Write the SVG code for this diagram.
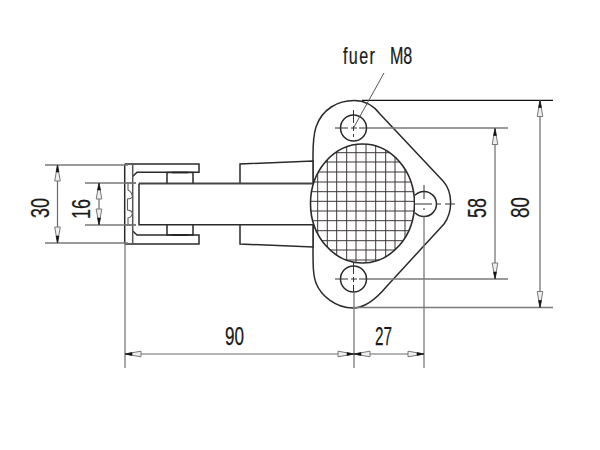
<svg xmlns="http://www.w3.org/2000/svg" width="600" height="450" viewBox="0 0 600 450">
<style>
.o{fill:none;stroke:#2a2a2a;stroke-width:1.5}
.w{fill:#fff;stroke:#2a2a2a;stroke-width:1.5}
.g{fill:none;stroke:#5e5e5e;stroke-width:1.1}
.d{fill:none;stroke:#7a7a7a;stroke-width:1.3}
.dm{fill:none;stroke:#6a6a6a;stroke-width:1.2;marker-start:url(#a);marker-end:url(#a)}
.c{fill:none;stroke:#333;stroke-width:1}
text{font-family:"Liberation Sans","DejaVu Sans",sans-serif;font-size:26px;fill:#1a1a1a;stroke:#1a1a1a;stroke-width:.25}
</style>
<defs>
<marker id="a" markerUnits="userSpaceOnUse" viewBox="-18 -5 20 10" refX="0" refY="0" markerWidth="20" markerHeight="10" orient="auto-start-reverse" overflow="visible">
<path d="M0 0L-16 -2.800L-16 2.800Z" fill="#efefef" stroke="#777" stroke-width="1"/>
<path d="M0 0L-7 -1.400V1.400Z" fill="#111" stroke="#111" stroke-width=".6"/>
</marker>
<clipPath id="e"><ellipse cx="362.5" cy="203.5" rx="52" ry="59.5"/></clipPath>
</defs>
<g id="plate">
<path class="w" d="M313 155C313 142 313.500 135 316 127C322 109 338 100.500 354 100.500C365 100.500 373 105 380 114L443 181C453 192 453 212 444 224L387 286C377 298 366 308 353 308C336 308 321 296 316 283C313 275 313 265 313 247Z"/>
</g>
<g id="arm">
<path class="w" d="M240 184V164L313 161V247L240 244V224.500Z"/>
<path d="M139 183.500H320V224.700H139Z" fill="#fff"/>
<path class="o" d="M139 183.500H320" style="stroke-width:1.800;stroke:#444"/>
<path class="o" d="M320 224.700H139V183.500"/>
</g>
<g id="clamp">
<path class="o" d="M124.700 164H199V172.300H137L132.700 176.500M124.700 244H199V235H137L132.700 231M124.700 164V244"/>
<path class="o" d="M132.700 164V244" style="stroke:#555"/>
<path class="o" d="M167 183.500V172.500H193V183.500M167 224.700V235H193V224.700"/>
<path d="M172 172.500H188M172 235H188" stroke="#222" stroke-width="1.700" fill="none"/>
<path class="o" d="M124.700 183H136M124.700 225H136" style="stroke-width:1.100"/>
<path class="g" d="M128 183V190Q132 192 132.500 197Q131 199 127.500 199V210Q131 210 132.500 213Q132 217 128 218V225"/>
</g>
<g id="mesh">
<ellipse cx="362.500" cy="203.500" rx="52" ry="59.500" fill="#fff"/>
<g clip-path="url(#e)">
<path fill="none" stroke="#3d3536" stroke-width="1" d="M317.700 140V270M327.300 140V270M336.700 140V270M346.700 140V270M356 140V270M366 140V270M375.700 140V270M385.700 140V270M395 140V270M405 140V270M310 152.700H416M310 162H416M310 172H416M310 182H416M310 191.700H416M310 201.300H416M310 211H416M310 220.700H416M310 230.700H416M310 240.700H416M310 250H416M310 260H416"/>
</g>
<ellipse class="o" cx="362.500" cy="203.500" rx="52" ry="59.500" style="stroke-width:1.600"/>
</g>
<g id="hole-top">
<circle class="w" cx="353.500" cy="128" r="13"/>
<path class="c" d="M335 128H348M351 128H357M359 128H372M353.500 110V123M353.500 126V131M353.500 134V137"/>
</g>
<g id="hole-bottom">
<circle class="w" cx="353.500" cy="279" r="13"/>
<path class="c" d="M335 279H348M351 279H357M359 279H372M353.500 262V274M353.500 277V282M353.500 285V292"/>
</g>
<g id="hole-right">
<path class="w" d="M415 195.300A12.500 12.500 0 1 1 415 212.700"/>
<path class="c" d="M414 204H432M437 204H441M445 204H455M424 185V199M424 208V210"/>
</g>
<g id="connectors">
<path class="d" d="M45 165H128M45 243H128M85 183H136M85 225H136"/>
<path class="d" d="M125 243V368M354 292V368M424 216.500V368"/>
<path class="d" d="M372 128H508M372 279H508M353 307.500H553"/>
<path d="M362 100.300H553" fill="none" stroke="#111" stroke-width="1.200"/>
<path class="dm" d="M57.500 165V243"/>
<path class="dm" d="M99 183V225"/>
<path class="dm" d="M495 128.500V279"/>
<path class="dm" d="M540 100.500V307.500"/>
<path class="dm" d="M125 354H354"/>
<path class="dm" d="M354 354H424"/>
<path class="d" d="M384 73L354 127" style="stroke:#555;stroke-width:1"/>
</g>
<g id="labels">
<text transform="translate(343 64) scale(.7 1)" style="font-size:23px"><tspan letter-spacing="2">fuer</tspan><tspan x="67">M8</tspan></text>
<text x="225" y="345" textLength="19" lengthAdjust="spacingAndGlyphs">90</text>
<text x="375" y="345" textLength="17" lengthAdjust="spacingAndGlyphs">27</text>
<text transform="translate(49 218) rotate(-90)" textLength="20" lengthAdjust="spacingAndGlyphs">30</text>
<text transform="translate(90 219) rotate(-90)" textLength="20" lengthAdjust="spacingAndGlyphs">16</text>
<text transform="translate(486 218) rotate(-90)" textLength="20" lengthAdjust="spacingAndGlyphs">58</text>
<text transform="translate(529 218) rotate(-90)" textLength="21" lengthAdjust="spacingAndGlyphs">80</text>
</g>
</svg>
